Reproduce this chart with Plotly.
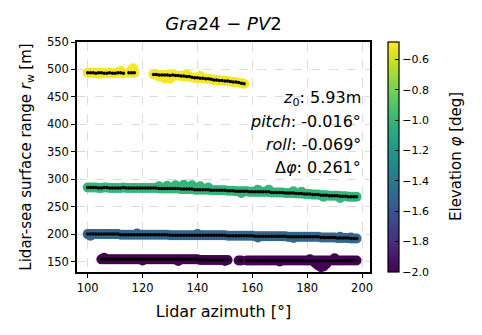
import plotly.graph_objects as go

# ---------------- data ----------------
# Yellow ring (elevation ~ -0.5 deg)
yel_az = [100, 101, 102, 103, 104, 105, 106, 107, 108, 109, 110, 111, 112, 113,
          115, 116, 117,
          124, 125, 126, 127, 128, 129, 130, 131, 132, 133, 134, 135, 136, 137, 138, 139, 140,
          141, 142, 143, 144, 145, 146, 147, 148, 149, 150, 151, 152, 153, 154, 155, 156, 157]
yel_r = [494, 494, 494, 493, 494, 494, 493, 493, 494, 493, 493, 494, 494, 493,
         494, 494, 494,
         491, 491, 490, 490, 490, 490, 489, 490, 489, 489, 488, 488, 487, 487, 486, 485, 485,
         484, 484, 483, 483, 482, 481, 481, 480, 480, 479, 479, 478, 477, 477, 476, 475, 474]
yel_extra_az = [104, 112, 116, 116.5, 126, 128, 130, 136, 141]
yel_extra_r = [492, 497, 499, 502, 487, 484, 483, 491, 488]

# Green ring (elevation ~ -1.0 deg)
grn_az = [100, 101, 102, 103, 104, 105, 106, 107, 108, 109, 110, 111, 112, 113, 114, 115, 116, 117, 118, 119,
          120, 121, 122, 123, 124, 125, 126, 127, 128, 129, 130, 131, 132, 133, 134, 135, 136, 137, 138, 139,
          140, 141, 142, 143, 144, 145, 146, 147, 148, 149, 150, 151, 152, 153, 154, 155, 156, 157, 158, 159,
          160, 161, 162, 163, 164, 165, 166, 167, 168, 169, 170, 171, 172, 173, 174, 175, 176, 177, 178, 179,
          180, 181, 182, 183, 184, 185, 186, 187, 188, 189, 190, 191, 192, 193, 194, 195, 196, 197, 198]
grn_r = [285, 285, 285, 285, 284, 284, 285, 285, 284, 284, 284, 284, 284, 285, 284, 284, 284, 284, 284, 284,
         284, 284, 284, 284, 284, 284, 283, 283, 283, 283, 283, 283, 283, 283, 282, 282, 282, 282, 282, 281,
         281, 281, 281, 281, 281, 280, 280, 280, 280, 280, 280, 279, 279, 279, 278, 278, 278, 278, 278, 277,
         277, 277, 277, 277, 277, 277, 277, 276, 276, 276, 276, 276, 275, 275, 275, 275, 274, 274, 274, 273,
         273, 273, 272, 272, 272, 271, 271, 271, 270, 270, 270, 270, 269, 269, 269, 268, 268, 268, 268]
grn_extra_az = [126, 129, 132, 135, 138, 141, 144, 162, 166, 175, 178, 156, 186, 192]
grn_extra_r = [287, 288, 289, 290, 289, 287, 285, 281, 281, 278, 277, 275, 268, 266]

# Blue ring (elevation ~ -1.5 deg)
blu_az = grn_az
blu_r = [200, 200, 200, 200, 200, 200, 200, 200, 200, 200, 200, 200, 199, 199, 199, 199, 199, 199, 199, 199,
         199, 199, 199, 199, 199, 199, 199, 199, 199, 199, 198, 198, 198, 198, 198, 198, 198, 198, 198, 198,
         198, 198, 198, 198, 198, 198, 198, 198, 198, 198, 198, 197, 197, 197, 197, 197, 197, 197, 197, 197,
         197, 196, 196, 196, 196, 196, 196, 196, 196, 196, 196, 196, 196, 195, 195, 195, 195, 195, 195, 195,
         195, 195, 195, 195, 195, 194, 194, 194, 194, 194, 194, 193, 193, 193, 193, 193, 192, 192, 192]
blu_extra_az = [101, 118, 140, 162, 175, 192, 196]
blu_extra_r = [197, 201, 200, 194, 193, 195, 194]

# Purple ring (elevation ~ -2.0 deg)
pur_az = [105, 106, 107, 108, 109, 110, 111, 112, 113, 114, 115, 116, 117, 118, 119, 120, 121, 122, 123, 124,
          125, 126, 127, 128, 129, 130, 131, 132, 133, 134, 135, 136, 137, 138, 139, 140, 141, 142, 143, 144,
          145, 146, 147, 148, 149, 150, 151,
          155, 156, 158, 159, 160, 161, 162, 163, 164, 165, 166, 167, 168, 169, 170, 171, 172, 173, 174, 175,
          176, 177, 178, 179, 180, 181, 182, 183, 184, 185, 186, 187, 188, 189, 190, 191, 192, 193, 194, 195,
          196, 197, 198]
pur_r = [154, 154, 154, 154, 154, 154, 154, 154, 154, 154, 154, 154, 154, 154, 154, 154, 154, 154, 154, 154,
         154, 154, 154, 154, 154, 154, 154, 154, 154, 154, 154, 154, 154, 154, 154, 154, 153, 153, 153, 153,
         153, 153, 153, 153, 153, 153, 153,
         152, 152, 152, 152, 152, 152, 152, 152, 152, 152, 152, 152, 152, 152, 152, 152, 152, 152, 152, 152,
         152, 152, 152, 152, 152, 152, 152, 152, 152, 152, 152, 152, 152, 152, 152, 152, 152, 152, 152, 152,
         152, 152, 152]
pur_extra_az = [106, 120, 133, 150, 170, 181, 183, 184, 185, 186, 187, 190]
pur_extra_r = [157, 152, 151, 151, 150, 154, 147, 143, 140, 141, 146, 156]

elevations = {"yel": -0.5, "grn": -1.0, "blu": -1.5, "pur": -2.0}

# --------------- figure ---------------
fig = go.Figure()
rings = [
    ("yel", yel_az + yel_extra_az, yel_r + yel_extra_r, yel_az, yel_r),
    ("grn", grn_az + grn_extra_az, grn_r + grn_extra_r, grn_az, grn_r),
    ("blu", blu_az + blu_extra_az, blu_r + blu_extra_r, blu_az, blu_r),
    ("pur", pur_az + pur_extra_az, pur_r + pur_extra_r, pur_az, pur_r),
]
for key, caz, cr, baz, br in rings:
    fig.add_trace(go.Scatter(
        x=caz, y=cr, mode="markers", showlegend=False,
        marker=dict(size=10, color=[elevations[key]] * len(caz), coloraxis="coloraxis",
                    line=dict(width=0)),
    ))
for key, caz, cr, baz, br in rings:
    fig.add_trace(go.Scatter(
        x=baz, y=br, mode="markers", showlegend=False,
        marker=dict(size=3.5, color="black", line=dict(width=0)),
    ))

FONT = "DejaVu Sans"
fig.update_layout(
    width=482, height=335,
    margin=dict(l=77, r=112, t=42, b=63),
    paper_bgcolor="white", plot_bgcolor="white",
    font=dict(family=FONT, size=11, color="black"),
    title=dict(text="<i>Gra</i>24 − <i>PV</i>2", x=0.4637, xanchor="center",
               y=0.928, yanchor="middle", font=dict(size=18, family=FONT)),
    coloraxis=dict(
        colorscale="Viridis", cmin=-2.0, cmax=-0.485,
        colorbar=dict(
            x=1.0614, xanchor="left", xpad=0, ypad=0,
            y=0.5, yanchor="middle", len=1.0, lenmode="fraction",
            thickness=11, outlinecolor="black", outlinewidth=1.2,
            tickmode="linear", tick0=-2.0, dtick=0.2, tickformat=".1f",
            ticks="inside", ticklen=4, tickcolor="black", tickwidth=1.2,
            tickfont=dict(size=11, family=FONT),
            title=dict(text=""),
        ),
    ),
)
fig.update_xaxes(
    range=[96.1, 202.9], tickmode="array", tickvals=[100, 120, 140, 160, 180, 200],
    showline=True, mirror=True, linecolor="black", linewidth=1.5,
    ticks="outside", ticklen=4, tickwidth=1.2, tickcolor="black",
    showgrid=True, gridcolor="#dddddd", griddash="dash", gridwidth=1,
    zeroline=False, tickfont=dict(size=11.5),
    title=dict(text="Lidar azimuth [°]", font=dict(size=16), standoff=12),
)
fig.update_yaxes(
    range=[131, 550], tickmode="array", tickvals=[150, 200, 250, 300, 350, 400, 450, 500, 550],
    showline=True, mirror=True, linecolor="black", linewidth=1.5,
    ticks="outside", ticklen=4, tickwidth=1.2, tickcolor="black",
    showgrid=True, gridcolor="#dddddd", griddash="dash", gridwidth=1,
    zeroline=False, tickfont=dict(size=11.5),
    title=dict(text="Lidar-sea surface range <i>r</i><sub>w</sub> [m]", font=dict(size=15), standoff=12),
)

ann_lines = [
    ("<i>z</i><sub>0</sub>: 5.93m", 0.7565),
    ("<i>pitch</i>: -0.016°", 0.6565),
    ("<i>roll</i>: -0.069°", 0.5565),
    ("Δ<i>φ</i>: 0.261°", 0.4565),
]
for txt, yy in ann_lines:
    fig.add_annotation(text=txt, x=0.976, y=yy, xref="paper", yref="paper",
                       xanchor="right", yanchor="middle", showarrow=False,
                       font=dict(size=16, family=FONT, color="black"))

# colorbar label (rotated), placed to the right of the colorbar tick labels
fig.add_annotation(text="Elevation <i>φ</i> [deg]", x=(456 - 77) / 293, y=0.5,
                   xref="paper", yref="paper", xanchor="center", yanchor="middle",
                   textangle=-90, showarrow=False,
                   font=dict(size=15, family=FONT, color="black"))

fig.write_html("out.html")
